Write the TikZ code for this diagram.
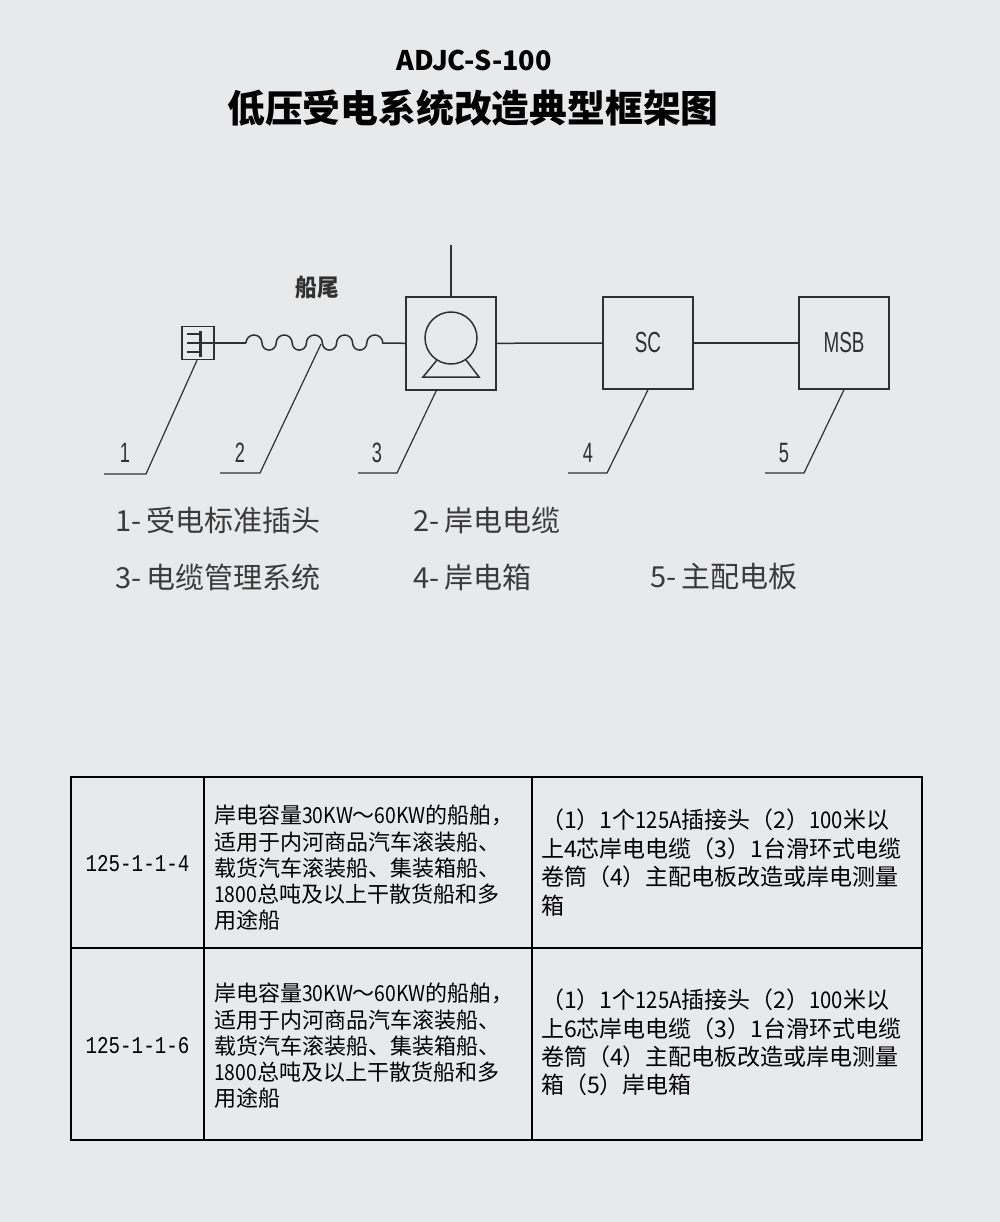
\documentclass[tikz,border=0pt]{standalone}
\usepackage{fontspec}
\usepackage{graphicx}
\usetikzlibrary{calc}
\setmainfont{Noto Sans CJK SC}
\newfontfamily\cadfont{Liberation Sans}
\newfontfamily\tabmono{Liberation Mono}
\definecolor{bg}{RGB}{232,233,235}
\definecolor{ink}{RGB}{48,48,48}
\definecolor{leg}{RGB}{58,58,58}
\newcommand\cadtxt[1]{\scalebox{0.65}[1]{#1}}
\newcommand\nar[1]{\scalebox{0.88}[1]{#1}}
\begin{document}
\begin{tikzpicture}[x=1pt,y=-1pt,
  ln/.style={draw=ink, line width=1.5pt},
  leader/.style={draw=ink, line width=1.2pt},
  blk/.style={draw=ink, line width=1.5pt, minimum width=90pt, minimum height=92pt, inner sep=0pt,
    font=\cadfont\fontsize{29}{30}\selectfont, text=ink},
  num/.style={text=ink, font=\cadfont\fontsize{28}{30}\selectfont, inner sep=0pt},
  legend/.style={text=leg, font=\fontsize{29}{32}\selectfont, anchor=west, inner sep=0pt},
  tb/.style={draw=black, line width=2.8pt},
  cellA/.style={align=left, anchor=west, inner sep=0pt, text=black, font=\fontsize{22}{26.3}\selectfont},
  cellB/.style={align=left, anchor=west, inner sep=0pt, text=black, font=\fontsize{23}{28.4}\selectfont},
  code/.style={inner sep=0pt, text=black, font=\tabmono\fontsize{24}{26}\selectfont}
]
\fill[bg] (0,0) rectangle (1000,1222);
\useasboundingbox (0,0) rectangle (1000,1222);

% titles
\node[inner sep=0pt] (model) at (474,60) {\bfseries\fontsize{27}{30}\selectfont ADJC-S-100};
\node[inner sep=0pt] (title) at (473,108) {\bfseries\fontsize{37.8}{40}\selectfont 低压受电系统改造典型框架图};

% plug
\node[draw=ink, line width=1.5pt, minimum width=32pt, minimum height=33pt, inner sep=0pt] (plug) at (198,343) {};
\draw[ink, line width=1.4pt] (187,334)--(200,334) (187,343)--(200,343) (187,352)--(200,352);
\draw[ink, line width=3pt] (200,331)--(200,357);
\draw[ink, line width=1.5pt] (200,343)--(plug.east);

% cable coil
\coordinate (c1) at (246,343);
\coordinate (c2) at (383,343);
\draw[ln] (plug.east) -- (c1);
\draw[ln] (c1) arc (180:360:8) arc (180:0:7.1) arc (180:360:8) arc (180:0:7.1)
  arc (180:360:8) arc (180:0:7.1) arc (180:360:8) arc (180:0:7.1) arc (180:360:8) -- (c2);
\node[inner sep=0pt, text=ink] (stern) at (317,288) {\scalebox{0.9}[1]{\bfseries\fontsize{24}{26}\selectfont 船尾}};

% reel
\node[blk, minimum height=93pt] (reel) at (451,343.3) {};
\draw[ln] (c2) -- (reel.west);
\coordinate (ant) at (451,245);
\draw[ln] (reel.north) -- (ant);
\draw[ink, line width=1.5pt] (451,338) circle (26);
\draw[ink, line width=1.5pt] (437,360) -- (423,377) -- (479,377) -- (466,360);

% SC and MSB
\node[blk] (sc) at (648,343) {\cadtxt{SC}};
\node[blk] (msb) at (844,343) {\cadtxt{MSB}};
\draw[ln] (reel.east) -- (sc.west);
\draw[ln] (sc.east) -- (msb.west);

% leaders
\coordinate (k1) at (146,474); \coordinate (e1) at (104,474);
\draw[leader] ($(plug.south)+(-1,0)$) -- (k1) -- (e1);
\node[num] (n1) at (125,453) {\cadtxt{1}};

\coordinate (w2) at (321,344);
\coordinate (k2) at (260,473); \coordinate (e2) at (220,473);
\draw[leader] (w2) -- (k2) -- (e2);
\node[num] (n2) at (240,453) {\cadtxt{2}};

\coordinate (k3) at (397,473); \coordinate (e3) at (358,473);
\draw[leader] ($(reel.south west)!0.34!(reel.south east)$) -- (k3) -- (e3);
\node[num] (n3) at (377,453) {\cadtxt{3}};

\coordinate (k4) at (607,473); \coordinate (e4) at (568,473);
\draw[leader] (sc.south) -- (k4) -- (e4);
\node[num] (n4) at (588,453) {\cadtxt{4}};

\coordinate (k5) at (804,473); \coordinate (e5) at (765,473);
\draw[leader] (msb.south) -- (k5) -- (e5);
\node[num] (n5) at (784,453) {\cadtxt{5}};

% legend
\node[legend] (l1) at (115,520) {1-\kern5pt受电标准插头};
\node[legend] (l2) at (413,520) {2-\kern5pt岸电电缆};
\node[legend] (l3) at (115,577) {3-\kern5pt电缆管理系统};
\node[legend] (l4) at (413,577) {4-\kern5pt岸电箱};
\node[legend] (l5) at (650,577) {5-\kern5pt主配电板};

% table
\draw[tb] (71,777) rectangle (922,1140);
\draw[tb] (204,777) -- (204,1140);
\draw[tb] (532,777) -- (532,1140);
\draw[tb] (71,948) -- (922,948);

\node[code] (r1c1) at (137.5,864) {\scalebox{0.8}[1]{125-1-1-4}};
\node[code] (r2c1) at (137.5,1046) {\scalebox{0.8}[1]{125-1-1-6}};

\node[cellA] (r1c2) at (214,868) {岸电容量\nar{30KW}～\nar{60KW}的船舶，\\适用于内河商品汽车滚装船、\\载货汽车滚装船、集装箱船、\\\nar{1800}总吨及以上干散货船和多\\用途船};
\node[cellA] (r2c2) at (214,1046) {岸电容量\nar{30KW}～\nar{60KW}的船舶，\\适用于内河商品汽车滚装船、\\载货汽车滚装船、集装箱船、\\\nar{1800}总吨及以上干散货船和多\\用途船};

\node[cellB] (r1c3) at (541,862.5) {（1）1个\nar{125A}插接头（2）\nar{100}米以\\上4芯岸电电缆（3）1台滑环式电缆\\卷筒（4）主配电板改造或岸电测量\\箱};
\node[cellB] (r2c3) at (541,1042.5) {（1）1个\nar{125A}插接头（2）\nar{100}米以\\上6芯岸电电缆（3）1台滑环式电缆\\卷筒（4）主配电板改造或岸电测量\\箱（5）岸电箱};
\end{tikzpicture}
\end{document}
